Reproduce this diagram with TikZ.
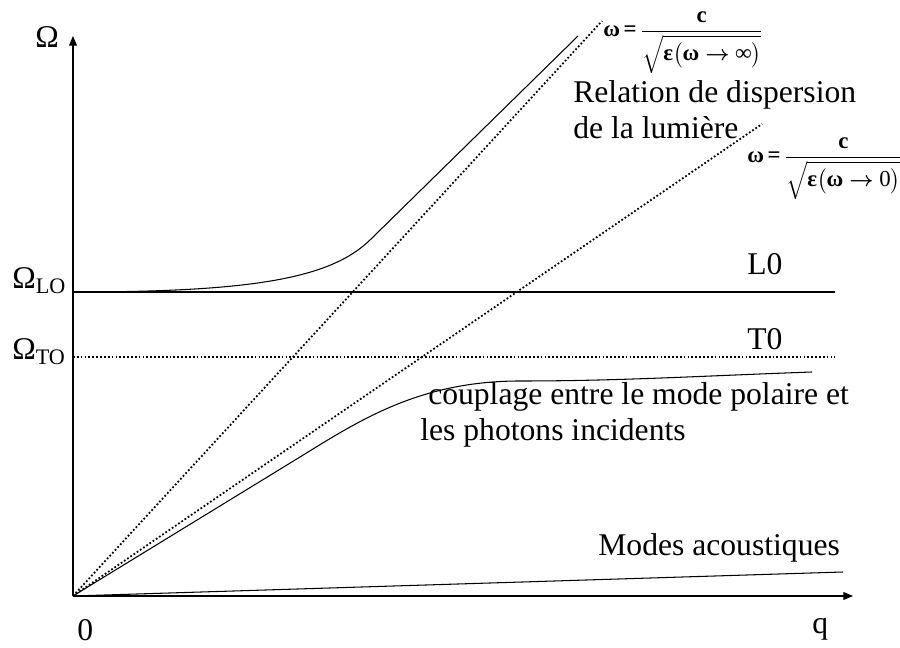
\documentclass[tikz,border=0pt]{standalone}
\usepackage{amsmath}
\usepackage{fontspec}
\setmainfont{Liberation Serif}
\usetikzlibrary{arrows.meta}
\newcommand{\bw}[1]{\text{\bfseries #1}}
\tikzset{
  lbl/.style={font=\fontsize{18}{20.5}\selectfont, inner sep=0pt, anchor=base west},
  frm/.style={font=\fontsize{13}{15}\selectfont, inner sep=0pt, anchor=base west},
  curve/.style={line width=0.6pt},
  dots/.style={line width=1pt, dash pattern=on 1pt off 1.2pt},
  axis/.style={curve, -{Triangle[length=5.5pt,width=4.5pt]}}
}

\begin{document}
\begin{tikzpicture}[x=0.02cm,y=-0.02cm]
        \useasboundingbox (0,0) rectangle (900,648);
        \coordinate (o) at (73,596);
        \coordinate (qend) at (853,596);
        \coordinate (wend) at (73,36);

        % Axes
        \draw[axis] (o) -- (qend);
        \draw[axis] (o) -- (wend);
        \node[lbl] (omega) at (35,48) {Ω};
        \node[lbl] (zero) at (77,641) {0};
        \node[lbl] (q) at (812,634) {q};

        % LO and TO levels
        \node[lbl] (omegaLO) at (12,289) {Ω\textsubscript{LO}};
        \node[lbl] (omegaTO) at (12,360) {Ω\textsubscript{TO}};
        \draw[curve] (73,292) -- (835,292);
        \draw[dots] (73,357) -- (835,357);
        \node[lbl] (lo) at (747,275) {L0};
        \node[lbl] (to) at (747,350) {T0};

        % Light lines
        \draw[dots] (o) -- (602,21);
        \draw[dots] (o) -- (762,124);
        \node[frm] (lum1) at (603,37) {$\bw{ω}\,\bw{=}\,\dfrac{\bw{c}}{\sqrt{\bw{ε}\bigl(\bw{ω}\boldsymbol{\to}\bw{∞}\bigr)}}$};
        \node[frm] (lum2) at (747,163) {$\bw{ω}\,\bw{=}\,\dfrac{\bw{c}}{\sqrt{\bw{ε}\bigl(\bw{ω}\boldsymbol{\to}\text{0}\bigr)}}$};
        \node[lbl, align=left, anchor=north west] (relation) at (573,80) {Relation de dispersion\\de la lumière};

        % Polariton branches
        \draw[curve] (73,292) .. controls (250,292) and (330,279) .. (370,240) -- (578,36);
        \draw[curve] (o) -- (300,457) .. controls (360,420) and (420,381) .. (520,381)
                     .. controls (620,381) and (700,376) .. (812,372);
        \node[lbl, align=left, anchor=north west] (couplage) at (420,382) {~couplage entre le mode polaire et\\les photons incidents};

        % Acoustic branch
        \draw[curve] (o) -- (843,572);
        \node[lbl] (acoustic) at (598,556) {Modes acoustiques};
\end{tikzpicture}
\end{document}
